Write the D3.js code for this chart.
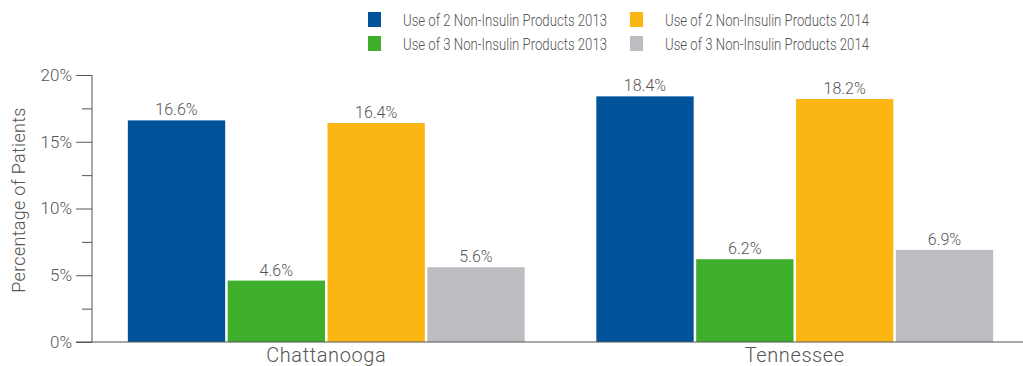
<!DOCTYPE html>
<html>
<head>
<meta charset="utf-8">
<script src="https://cdn.jsdelivr.net/npm/d3@7"></script>
<style>
  html, body { margin: 0; padding: 0; background: #fff; }
  svg { display: block; }
  text { font-family: "Roboto", "Lato", "DejaVu Sans", sans-serif; font-weight: 300; fill: #555; }
</style>
</head>
<body>
<svg id="chart" width="1023" height="366"></svg>
<script>
const regions = ["Chattanooga", "Tennessee"];
const seriesNames = [
  "Use of 2 Non-Insulin Products 2013",
  "Use of 3 Non-Insulin Products 2013",
  "Use of 2 Non-Insulin Products 2014",
  "Use of 3 Non-Insulin Products 2014"
];
const seriesColors = ["#00529b", "#3fae2a", "#fbb614", "#bcbdc0"];
const two2013 = [16.6, 18.4];
const three2013 = [4.6, 6.2];
const two2014 = [16.4, 18.2];
const three2014 = [5.6, 6.9];
const yTicks = [0, 5, 10, 15, 20];
const yMinorTicks = [2.5, 7.5, 12.5, 17.5];

const seriesValues = [two2013, three2013, two2014, three2014];
const rows = regions.map((r, i) => ({
  region: r,
  values: seriesNames.map((s, k) => ({ series: s, k, value: seriesValues[k][i] }))
}));

const svg = d3.select("#chart");
const axisColor = "#555";

const x0 = d3.scaleBand().domain(regions).range([92, 1029])
  .paddingInner(0.153).paddingOuter(0.0765);
const x1 = d3.scaleBand().domain(seriesNames).range([0, x0.bandwidth()]).paddingInner(0.025);
const y = d3.scaleLinear().domain([0, 20]).range([342, 75]);

// bars
const groups = svg.append("g").selectAll("g").data(rows).join("g")
  .attr("transform", d => `translate(${x0(d.region)},0)`);

groups.selectAll("rect").data(d => d.values).join("rect")
  .attr("x", d => x1(d.series))
  .attr("y", d => y(d.value))
  .attr("width", x1.bandwidth())
  .attr("height", d => y(0) - y(d.value))
  .attr("fill", d => seriesColors[d.k]);

groups.selectAll("text.val").data(d => d.values).join("text")
  .attr("class", "val")
  .attr("x", d => x1(d.series) + x1.bandwidth() / 2)
  .attr("y", d => y(d.value) - 5)
  .attr("text-anchor", "middle")
  .style("font-size", "16px")
  .text(d => d.value.toFixed(1) + "%");

// y axis
const yAxis = svg.append("g").attr("transform", "translate(92,0)")
  .call(d3.axisLeft(y).tickValues(yTicks).tickFormat(d => d + "%").tickSize(16).tickPadding(4));
yAxis.select(".domain").attr("stroke", axisColor).attr("d", `M0,${y(20)}V${y(0)}`);
yAxis.selectAll(".tick line").attr("stroke", axisColor);
yAxis.selectAll(".tick text")
  .style("font-size", "17px").style("font-family", "Roboto, sans-serif")
  .style("font-weight", 300).attr("fill", "#555");

const yMinor = svg.append("g").attr("transform", "translate(92,0)")
  .call(d3.axisLeft(y).tickValues(yMinorTicks).tickSize(10).tickFormat(""));
yMinor.select(".domain").remove();
yMinor.selectAll(".tick line").attr("stroke", axisColor);

// x axis
svg.append("line")
  .attr("x1", 76).attr("x2", 1023)
  .attr("y1", y(0)).attr("y2", y(0))
  .attr("stroke", axisColor).attr("stroke-width", 1.2);

svg.append("g").selectAll("text").data(regions).join("text")
  .attr("x", d => x0(d) + x0.bandwidth() / 2)
  .attr("y", 362)
  .attr("text-anchor", "middle")
  .style("font-size", "20px")
  .style("letter-spacing", "0.6px")
  .text(d => d);

// y axis title
svg.append("text")
  .attr("transform", "translate(25,200) rotate(-90)")
  .attr("text-anchor", "middle")
  .style("font-size", "18px")
  .style("letter-spacing", "0.3px")
  .text("Percentage of Patients");

// legend
const legendPos = [[368, 12], [368, 36], [630, 12], [630, 36]];
const legend = svg.append("g").selectAll("g").data(seriesNames).join("g")
  .attr("transform", (d, i) => `translate(${legendPos[i][0]},${legendPos[i][1]})`);
legend.append("rect").attr("width", 13).attr("height", 15)
  .attr("fill", (d, i) => seriesColors[i]);
legend.append("text").attr("x", 35).attr("y", 13.5)
  .style("font-size", "17px")
  .attr("textLength", 204)
  .attr("lengthAdjust", "spacingAndGlyphs")
  .text(d => d);
</script>
</body>
</html>
